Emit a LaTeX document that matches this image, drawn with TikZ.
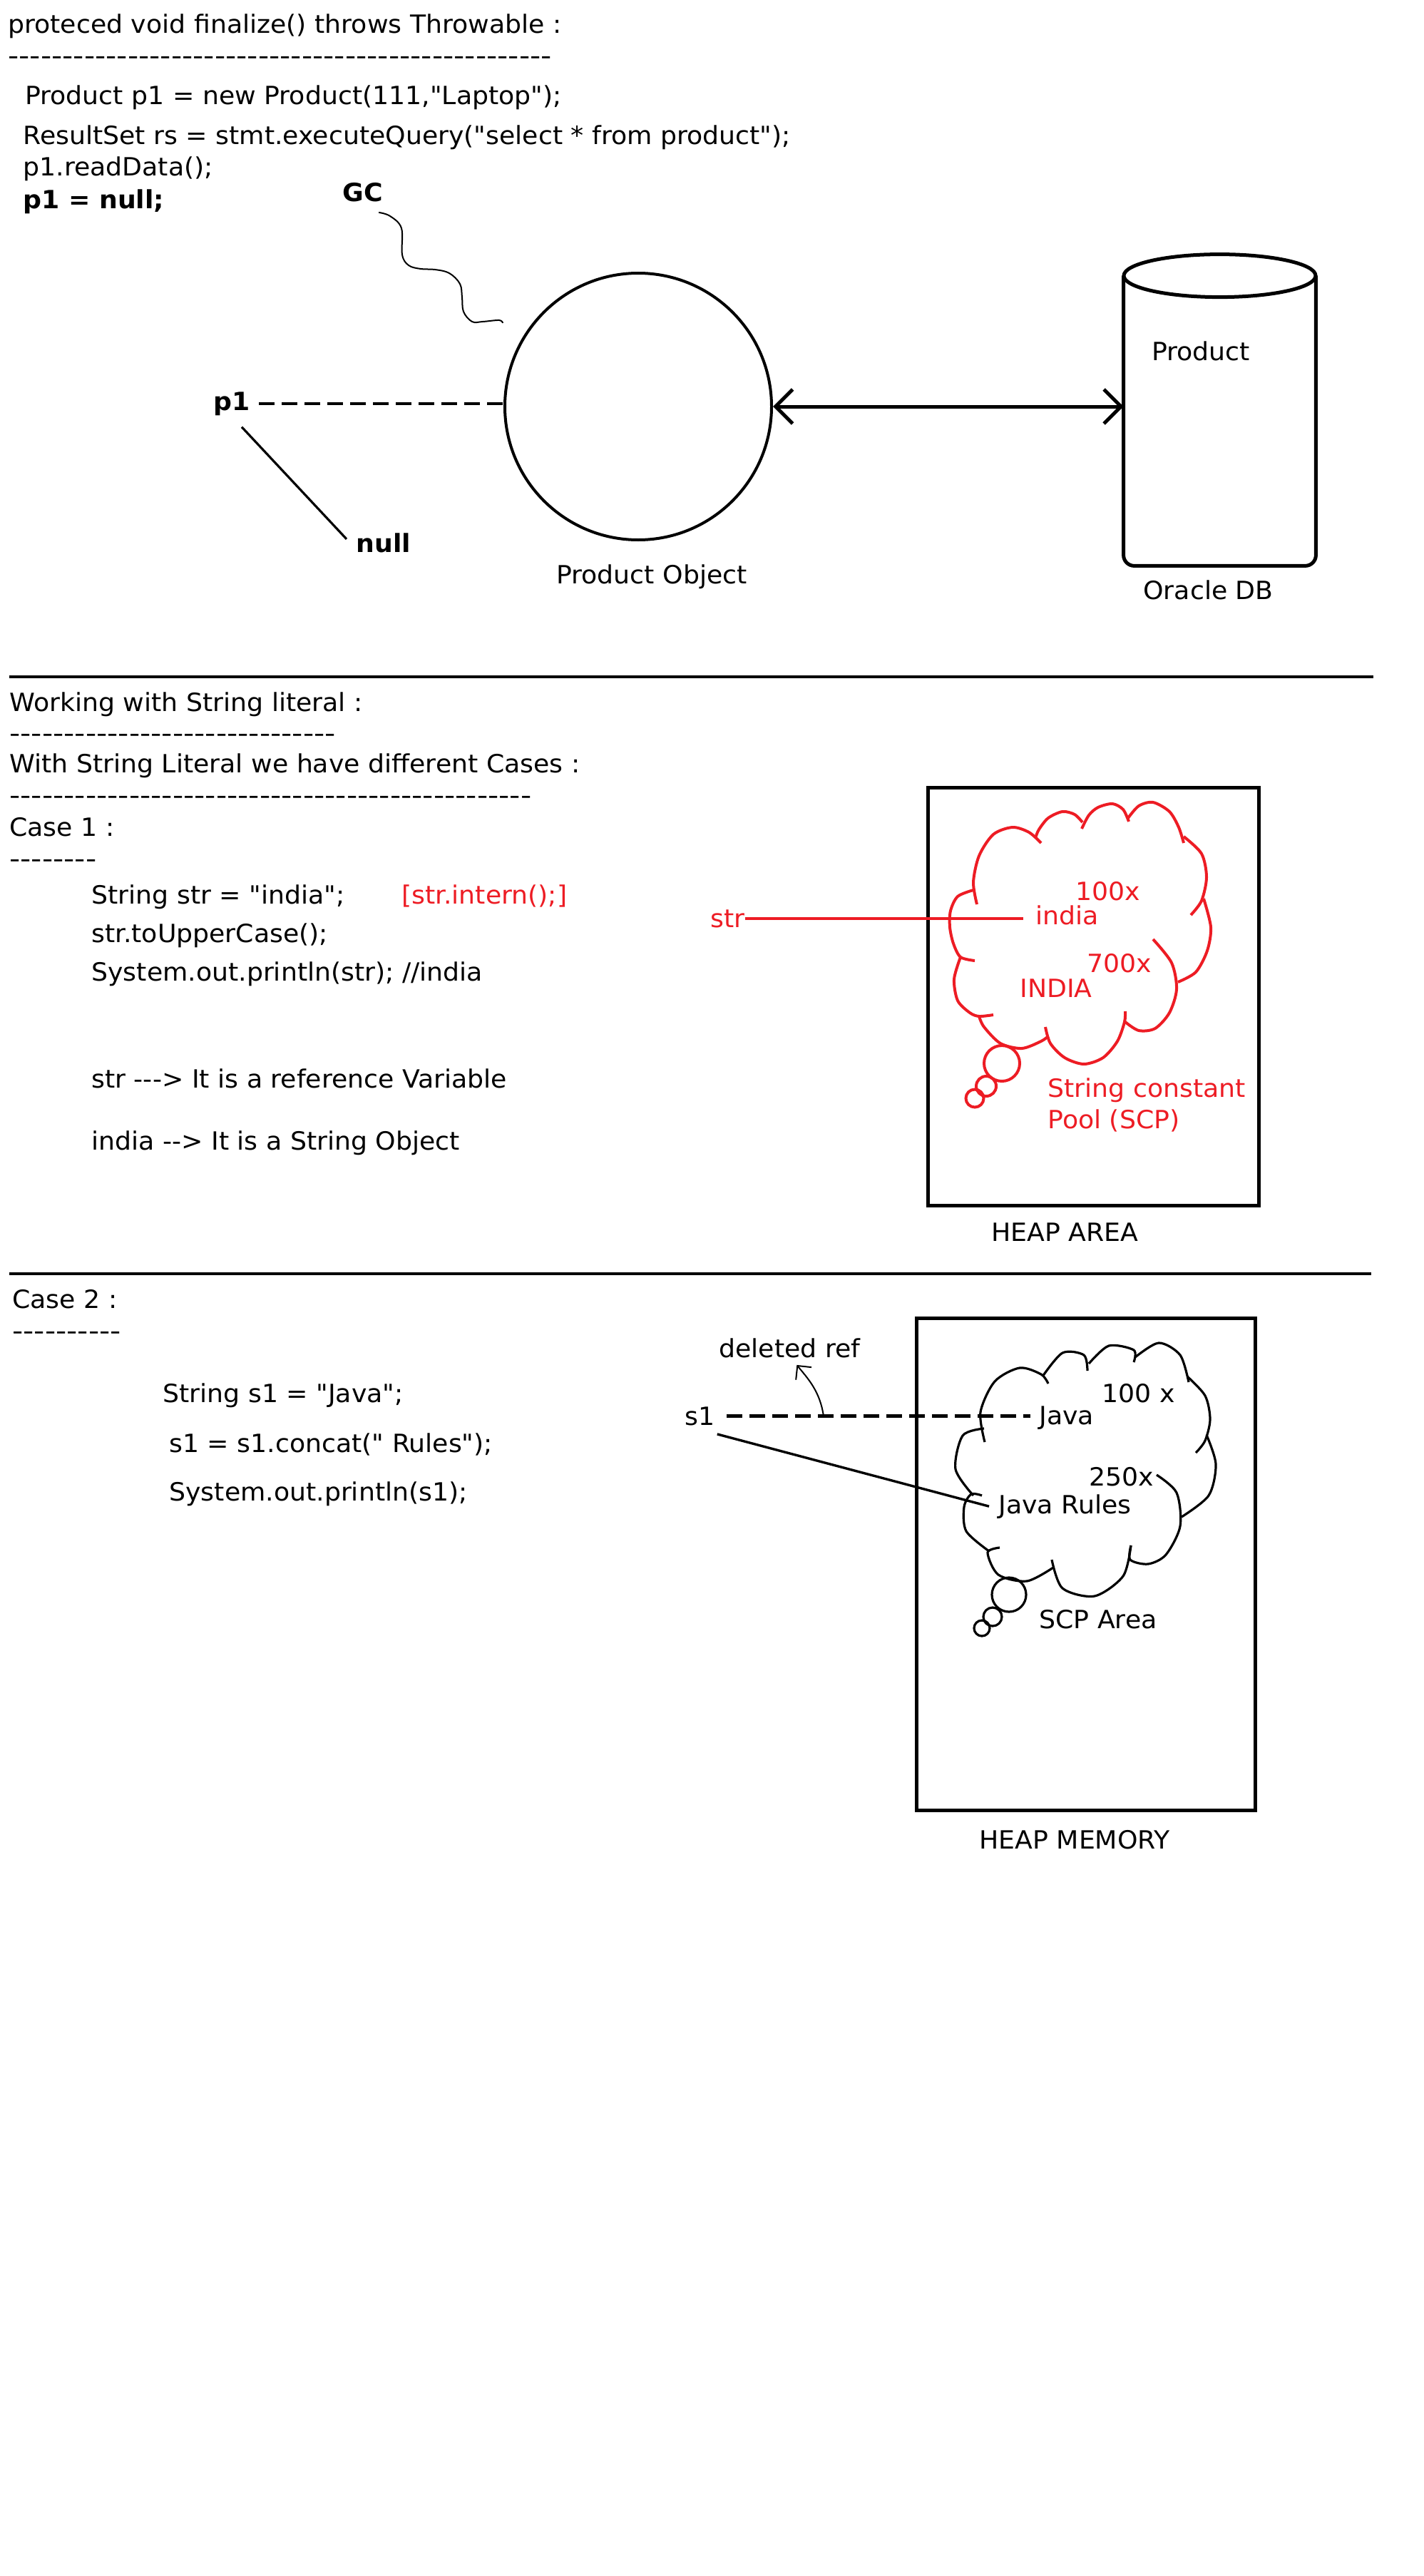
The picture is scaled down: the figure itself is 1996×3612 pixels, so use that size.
\documentclass[tikz,border=0pt]{standalone}
\usepackage{fontspec}
\newfontfamily\paintfont{DejaVu Sans}
\usepackage{tikz}
\usetikzlibrary{positioning,arrows.meta,calc}
\definecolor{paintred}{RGB}{237,28,36}
\newcommand{\painttext}{\paintfont\fontsize{17.6pt}{21pt}\selectfont}

\begin{document}
\begin{tikzpicture}[
  x=0.5pt, y=-0.5pt,
  >={Straight Barb[length=12pt,width=24pt]},
  txt/.style={anchor=base west, inner sep=0pt, font=\painttext, xscale=1.03},
  boldtxt/.style={txt, font=\painttext\bfseries},
  hyphens/.style={txt, xscale=1.165},
  redtxt/.style={txt, text=paintred},
  sepline/.style={line width=2pt},
  heapbox/.style={draw, line width=2.5pt, inner sep=0pt},
  cloudline/.style={line width=2pt},
  refdash/.style={line width=2.3pt, dash pattern=on 11pt off 5pt},
  refline/.style={line width=1.7pt},
]
\useasboundingbox (0,0) rectangle (1996,3612);

% finalize() part
\node[txt] (finalize) at (11,47) {proteced void finalize() throws Throwable :};
\node[hyphens] (rulea) at (11,91) {--------------------------------------------------};
\node[txt] (codea) at (35,147) {Product p1 = new Product(111,"Laptop");};
\node[txt] (codeb) at (32,203) {ResultSet rs = stmt.executeQuery("select * from product");};
\node[txt] (codec) at (32,247) {p1.readData();};
\node[boldtxt] (coded) at (32,293) {p1 = null;};

\node[boldtxt] (gc) at (480,283) {GC};
\node[boldtxt] (p1) at (299,575) {p1};
\node[boldtxt] (nullref) at (499,774) {null};
\node[circle, draw, line width=2pt, minimum size=187pt, inner sep=0pt] (obj) at (895,570) {};
\node[txt] (objlabel) at (780,818) {Product Object};

% Oracle DB cylinder
\node[inner sep=0pt, minimum width=134.5pt, minimum height=203pt] (db) at (1710.5,590) {};
\draw[line width=2.5pt, rounded corners=7.5pt] (db.north west) -- (db.south west) -- (db.south east) -- (db.north east);
\draw[line width=2.5pt, fill=white] (db.north) ellipse [x radius=134.5, y radius=30];
\node[txt] (dbtable) at (1615,505) {Product};
\node[txt] (dblabel) at (1603,840) {Oracle DB};

% references
\coordinate (gcfrom) at ($(gc.south east)+(-6,14)$);
\coordinate (gcto) at (705,453);
\draw[line width=1pt] plot[smooth, tension=0.6] coordinates {(gcfrom) (547,303) (563,320) (564,357) (573,372) (590,377) (610,378) (630,383) (645,398) (648,417) (650,437) (662,451) (677,451) (700,449) (gcto)};
\draw[refdash, shorten <=6pt] (p1.east) -- (p1.east -| obj.west);
\draw[line width=1.6pt] ($(p1.south)+(14,16)$) -- ($(nullref.west)+(-13,-5)$);
\draw[<->, line width=2.5pt] (obj.east) -- (obj.east -| db.west);

\draw[sepline] (13,949) -- (1926,949);

% Case 1
\node[txt] (literal) at (13,997) {Working with String literal :};
\node[hyphens] (ruleb) at (13,1040) {------------------------------};
\node[txt] (cases) at (13,1083) {With String Literal we have different Cases :};
\node[hyphens] (rulec) at (13,1127) {------------------------------------------------};
\node[txt] (casea) at (13,1172) {Case 1 :};
\node[hyphens] (ruled) at (13,1216) {--------};
\node[txt] (stra) at (128,1267) {String str = "india";};
\node[redtxt] (intern) at (563,1267) {[str.intern();]};
\node[txt] (strb) at (128,1321) {str.toUpperCase();};
\node[txt] (strc) at (128,1375) {System.out.println(str); //india};
\node[txt] (notea) at (128,1525) {str ---> It is a reference Variable};
\node[txt] (noteb) at (128,1612) {india --> It is a String Object};

\node[heapbox, minimum width=232pt, minimum height=293pt] (heapa) at (1533,1397) {};
\node[txt] (heapalabel) at (1390,1740) {HEAP AREA};

% string constant pool
\draw[cloudline, paintred] plot[smooth] coordinates {(1365,1248) (1343,1257) (1333,1277) (1332,1300) (1337,1323) (1347,1342) (1367,1347)};
\draw[cloudline, paintred] plot[smooth] coordinates {(1347,1342) (1338,1373) (1343,1403) (1360,1420) (1373,1425) (1393,1423)};
\draw[cloudline, paintred] plot[smooth] coordinates {(1373,1425) (1380,1440) (1403,1463) (1433,1470) (1460,1460) (1470,1453)};
\draw[cloudline, paintred] plot[smooth] coordinates {(1466,1440) (1473,1463) (1493,1483) (1520,1492) (1547,1483) (1567,1460) (1577,1433) (1578,1418)};
\draw[cloudline, paintred] plot[smooth] coordinates {(1578,1433) (1597,1445) (1620,1442) (1640,1420) (1650,1387) (1643,1350) (1617,1317)};
\draw[cloudline, paintred] plot[smooth] coordinates {(1652,1377) (1677,1363) (1693,1333) (1698,1300) (1688,1260)};
\draw[cloudline, paintred] plot[smooth] coordinates {(1670,1283) (1685,1263) (1692,1230) (1685,1197) (1660,1173)};
\draw[cloudline, paintred] plot[smooth] coordinates {(1660,1182) (1653,1160) (1640,1138) (1617,1125) (1597,1130) (1582,1147)};
\draw[cloudline, paintred] plot[smooth] coordinates {(1583,1152) (1575,1135) (1560,1127) (1540,1132) (1527,1143) (1517,1162)};
\draw[cloudline, paintred] plot[smooth] coordinates {(1518,1153) (1507,1142) (1490,1138) (1470,1147) (1457,1163) (1452,1175)};
\draw[cloudline, paintred] plot[smooth] coordinates {(1460,1182) (1443,1167) (1420,1160) (1393,1170) (1373,1200) (1365,1237) (1370,1268)};
\draw[cloudline, paintred] (1405,1491) circle [radius=25];
\draw[cloudline, paintred] (1383,1523) circle [radius=14];
\draw[cloudline, paintred] (1367,1540) circle [radius=12.5];

\node[redtxt] (strvar) at (996,1300) {str};
\node[redtxt] (india) at (1452,1296) {india};
\node[redtxt] (addra) at (1508,1262) {100x};
\node[redtxt] (addrb) at (1524,1363) {700x};
\node[redtxt] (indiab) at (1430,1398) {INDIA};
\node[redtxt] (scpa) at (1469,1538) {String constant};
\node[redtxt] (scpb) at (1469,1582) {Pool (SCP)};
\draw[paintred, line width=2.3pt, shorten >=8.5pt] (strvar.east) -- (strvar.east -| india.west);

\draw[sepline] (13,1786) -- (1923,1786);

% Case 2
\node[txt] (caseb) at (17,1834) {Case 2 :};
\node[hyphens] (rulee) at (17,1878) {----------};
\node[txt] (s1a) at (228,1966) {String s1 = "Java";};
\node[txt] (s1b) at (237,2036) {s1 = s1.concat(" Rules");};
\node[txt] (s1c) at (237,2104) {System.out.println(s1);};

\node[heapbox, minimum width=237.5pt, minimum height=345pt] (heapb) at (1523,2193) {};
\node[txt] (heapblabel) at (1373,2592) {HEAP MEMORY};

% SCP area
\draw[cloudline, line width=1.6pt] plot[smooth] coordinates {(1381,2022) (1375,1980) (1395,1937) (1430,1918) (1460,1927) (1470,1940)};
\draw[cloudline, line width=1.6pt] plot[smooth] coordinates {(1462,1930) (1490,1897) (1520,1900) (1525,1922)};
\draw[cloudline, line width=1.6pt] plot[smooth] coordinates {(1527,1912) (1555,1887) (1590,1893) (1590,1910)};
\draw[cloudline, line width=1.6pt] plot[smooth] coordinates {(1592,1903) (1625,1883) (1655,1900) (1667,1938)};
\draw[cloudline, line width=1.6pt] plot[smooth] coordinates {(1665,1930) (1690,1957) (1697,1990) (1690,2020) (1677,2037)};
\draw[cloudline, line width=1.6pt] plot[smooth] coordinates {(1692,2012) (1705,2053) (1695,2097) (1657,2127)};
\draw[cloudline, line width=1.6pt] plot[smooth] coordinates {(1622,2068) (1650,2093) (1655,2140) (1635,2180) (1610,2193) (1585,2187) (1586,2167)};
\draw[cloudline, line width=1.6pt] plot[smooth] coordinates {(1586,2167) (1575,2210) (1535,2238) (1490,2227) (1475,2187)};
\draw[cloudline, line width=1.6pt] plot[smooth] coordinates {(1477,2198) (1440,2217) (1400,2208) (1385,2177) (1402,2170)};
\draw[cloudline, line width=1.6pt] plot[smooth] coordinates {(1387,2175) (1355,2147) (1352,2113) (1362,2095) (1377,2097)};
\draw[cloudline, line width=1.6pt] plot[smooth] coordinates {(1365,2097) (1340,2060) (1350,2013) (1380,2003)};
\draw[cloudline, line width=1.6pt] (1415,2236) circle [radius=24];
\draw[cloudline, line width=1.6pt] (1392,2267) circle [radius=13];
\draw[cloudline, line width=1.6pt] (1377,2283) circle [radius=11];

\node[txt] (delref) at (1008,1903) {deleted ref};
\node[txt] (s1) at (960,1998) {s1};
\node[txt] (java) at (1457,1997) {Java};
\node[txt] (addrc) at (1545,1966) {100 x};
\node[txt] (addrd) at (1527,2083) {250x};
\node[txt] (javarules) at (1400,2122) {Java Rules};
\node[txt] (scpc) at (1457,2283) {SCP Area};

\draw[refdash, shorten <=8pt, shorten >=6pt] (s1.east) -- (s1.east -| java.west);
\draw[refline] ($(s1.south east)+(3,12)$) -- ($(javarules.west)+(-13,0)$);
\coordinate (cut) at (1155,1986);
\draw[line width=1pt, -{Straight Barb[length=7pt,width=14pt]}] (cut) .. controls (1150,1950) and (1132,1932) .. ($(delref.south)+(10,10)$);

\end{tikzpicture}
\end{document}
